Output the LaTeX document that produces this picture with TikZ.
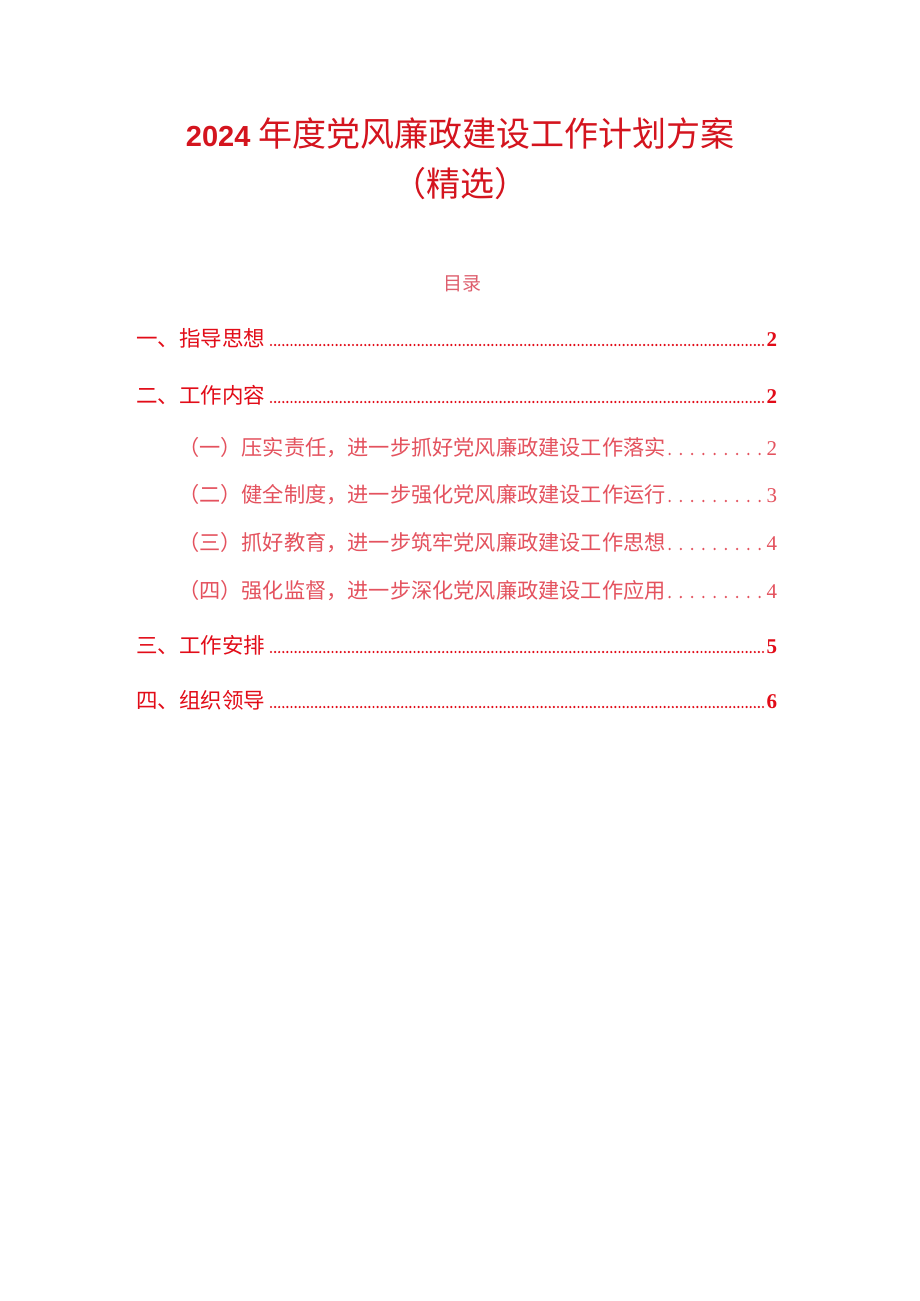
\documentclass[tikz,border=0pt]{standalone}
\usepackage{fontspec}
\setmainfont{Liberation Serif}
\newfontfamily\cjk{Noto Sans CJK SC}
\newfontfamily\numsans{Liberation Sans}
\usepackage{xcolor}
\usetikzlibrary{positioning}

\definecolor{titlered}{RGB}{212,20,30}
\definecolor{tocred}{RGB}{226,12,24}
\definecolor{subred}{RGB}{228,82,94}
\definecolor{mulured}{RGB}{222,95,110}

\begin{document}
\begin{tikzpicture}[x=1pt,y=-1pt,
    every node/.style={inner sep=0pt,outer sep=0pt},
    heading/.style={anchor=base west,text=tocred,font=\cjk\fontsize{21.5}{26}\selectfont},
    subheading/.style={anchor=base west,text=subred,font=\cjk\fontsize{21.2}{26}\selectfont},
    pagenum/.style={anchor=base east,text=tocred,font=\bfseries\fontsize{21}{26}\selectfont},
    subpagenum/.style={anchor=base east,text=subred,font=\fontsize{21}{26}\selectfont},
    leader/.style={tocred,line width=2.4pt,line cap=round,dash pattern=on 0pt off 4.1pt},
    subleader/.style={subred,line width=2.7pt,line cap=round,dash pattern=on 0pt off 11.25pt}]
    \useasboundingbox[fill=white] (0,0) rectangle (920,1301);
    % title
    \node[anchor=base,text=titlered,font=\cjk\fontsize{34}{40}\selectfont] (title) at (460,146)
      {{\numsans\bfseries\fontsize{29}{34}\selectfont 2024} 年度党风廉政建设工作计划方案};
    \node[anchor=base,text=titlered,font=\cjk\fontsize{34}{40}\selectfont] (subtitle) at (460,196) {（精选）};
    \node[anchor=base,text=mulured,font=\cjk\fontsize{19}{23}\selectfont] (contents) at (462,290) {目录};
    % main entries
    \node[heading] (h1) at (136,346) {一、指导思想};
    \node[pagenum] (p1) at (777,346) {2};
    \node[heading] (h2) at (136,403) {二、工作内容};
    \node[pagenum] (p2) at (777,403) {2};
    \node[heading] (h3) at (136,653) {三、工作安排};
    \node[pagenum] (p3) at (777,653) {5};
    \node[heading] (h4) at (136,708) {四、组织领导};
    \node[pagenum] (p4) at (777,708) {6};
    % sub entries
    \node[subheading] (s1) at (178,455) {（一）压实责任，进一步抓好党风廉政建设工作落实};
    \node[subpagenum] (q1) at (777,455) {2};
    \node[subheading] (s2) at (178,502) {（二）健全制度，进一步强化党风廉政建设工作运行};
    \node[subpagenum] (q2) at (777,502) {3};
    \node[subheading] (s3) at (178,550) {（三）抓好教育，进一步筑牢党风廉政建设工作思想};
    \node[subpagenum] (q3) at (777,550) {4};
    \node[subheading] (s4) at (178,598) {（四）强化监督，进一步深化党风廉政建设工作应用};
    \node[subpagenum] (q4) at (777,598) {4};
    % leaders
    \draw[leader] ([xshift=6pt,yshift=1pt]h1.base east) -- ([xshift=-2pt,yshift=1pt]p1.base west);
    \draw[leader] ([xshift=6pt,yshift=1pt]h2.base east) -- ([xshift=-2pt,yshift=1pt]p2.base west);
    \draw[leader] ([xshift=6pt,yshift=1pt]h3.base east) -- ([xshift=-2pt,yshift=1pt]p3.base west);
    \draw[leader] ([xshift=6pt,yshift=1pt]h4.base east) -- ([xshift=-2pt,yshift=1pt]p4.base west);
    \draw[subleader] ([xshift=4pt,yshift=1pt]s1.base east) -- ([xshift=-3pt,yshift=1pt]q1.base west);
    \draw[subleader] ([xshift=4pt,yshift=1pt]s2.base east) -- ([xshift=-3pt,yshift=1pt]q2.base west);
    \draw[subleader] ([xshift=4pt,yshift=1pt]s3.base east) -- ([xshift=-3pt,yshift=1pt]q3.base west);
    \draw[subleader] ([xshift=4pt,yshift=1pt]s4.base east) -- ([xshift=-3pt,yshift=1pt]q4.base west);
  \end{tikzpicture}
\end{document}
